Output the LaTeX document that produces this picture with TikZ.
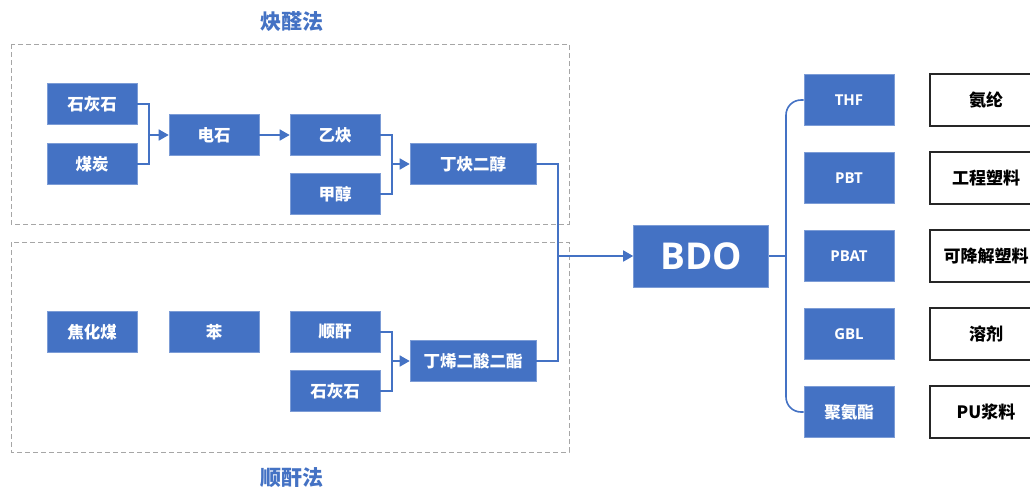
\documentclass[tikz,border=0pt]{standalone}
\usepackage{fontspec}
\setmainfont{Noto Sans CJK SC}
\newfontfamily\latinfont{Open Sans}
\usetikzlibrary{arrows.meta}
\definecolor{bdoblue}{HTML}{4472C4}
\definecolor{framegray}{HTML}{A6A6A6}

\begin{document}
\begin{tikzpicture}[x=1pt,y=-1pt,
    blk/.style={fill=bdoblue, draw=bdoblue!70!white, line width=0.6pt, text=white,
        minimum width=90pt, minimum height=41pt, inner sep=0pt, font=\fontsize{16.5}{16.5}\selectfont\bfseries},
    wideblk/.style={blk, minimum width=126pt},
    prod/.style={blk, minimum height=51pt, font=\fontsize{15}{15}\selectfont\latinfont\bfseries},
    use/.style={draw=black!85, line width=1.4pt, fill=white, minimum width=112pt, minimum height=52pt,
        inner sep=0pt, font=\fontsize{17}{17}\selectfont\bfseries},
    link/.style={draw=bdoblue, line width=1.6pt},
    arr/.style={link, -{Triangle[length=10pt,width=11pt]}},
    frame/.style={draw=framegray, line width=1pt, dash pattern=on 5pt off 3pt},
    title/.style={text=bdoblue, font=\fontsize{21}{21}\selectfont\bfseries}]
    \useasboundingbox[fill=white] (0,0) rectangle (1030,488);

    % Frames
    \draw[frame] (11,44) rectangle (569,224);
    \draw[frame] (11,242) rectangle (569,452);
    \node[title] (quetitle) at (292,22) {炔醛法};
    \node[title] (shuntitle) at (292,478) {顺酐法};

    % Acetylene route
    \node[blk] (shihui) at (92,104) {石灰石};
    \node[blk] (meitan) at (92,164) {煤炭};
    \node[blk] (dianshi) at (214,135) {电石};
    \node[blk] (yique) at (335,135) {乙炔};
    \node[blk] (jiachun) at (335,194) {甲醇};
    \node[wideblk] (dingque) at (473,164) {丁炔二醇};

    % Maleic anhydride route
    \node[blk] (jiaohua) at (92,332) {焦化煤};
    \node[blk] (ben) at (214,332) {苯};
    \node[blk] (shungan) at (335,332) {顺酐};
    \node[blk] (shihuib) at (335,391) {石灰石};
    \node[wideblk] (dingxi) at (473,361) {丁烯二酸二酯};

    % BDO
    \node[blk, minimum width=135pt, minimum height=62pt,
        font=\fontsize{37}{37}\selectfont\latinfont\bfseries] (bdo) at (701,256) {BDO};

    % Products and uses
    \node[prod] (thf) at (849,100) {THF};
    \node[prod] (pbt) at (849,178) {PBT};
    \node[prod] (pbat) at (849,256) {PBAT};
    \node[prod] (gbl) at (849,334) {GBL};
    \node[prod, font=\fontsize{16.5}{16.5}\selectfont\bfseries] (pu) at (849,412) {聚氨酯};
    \node[use] (anlun) at (986,100) {氨纶};
    \node[use] (gongcheng) at (986,178) {工程塑料};
    \node[use] (jiangjie) at (986,256) {可降解塑料};
    \node[use] (rongji) at (986,334) {溶剂};
    \node[use] (pujiang) at (986,412) {PU浆料};

    % Connectors
    \coordinate (j1) at (149,135);
    \coordinate (j2) at (392,164);
    \coordinate (j3) at (392,361);
    \coordinate (j4) at (558,256);
    \coordinate (trunk) at (786,256);
    \draw[link] (shihui.east) -| (j1) |- (meitan.east);
    \draw[arr] (j1) -- (dianshi.west);
    \draw[arr] (dianshi.east) -- (yique.west);
    \draw[link] (yique.east) -| (j2) |- (jiachun.east);
    \draw[arr] (j2) -- (dingque.west);
    \draw[link] (shungan.east) -| (j3) |- (shihuib.east);
    \draw[arr] (j3) -- (dingxi.west);
    \draw[link] (dingque.east) -| (j4) |- (dingxi.east);
    \draw[arr] (j4) -- (bdo.west);
    \draw[link] (bdo.east) -- (trunk);
    \draw[link, rounded corners=15pt] (thf.west) -| (trunk) |- (pu.west);
\end{tikzpicture}
\end{document}
